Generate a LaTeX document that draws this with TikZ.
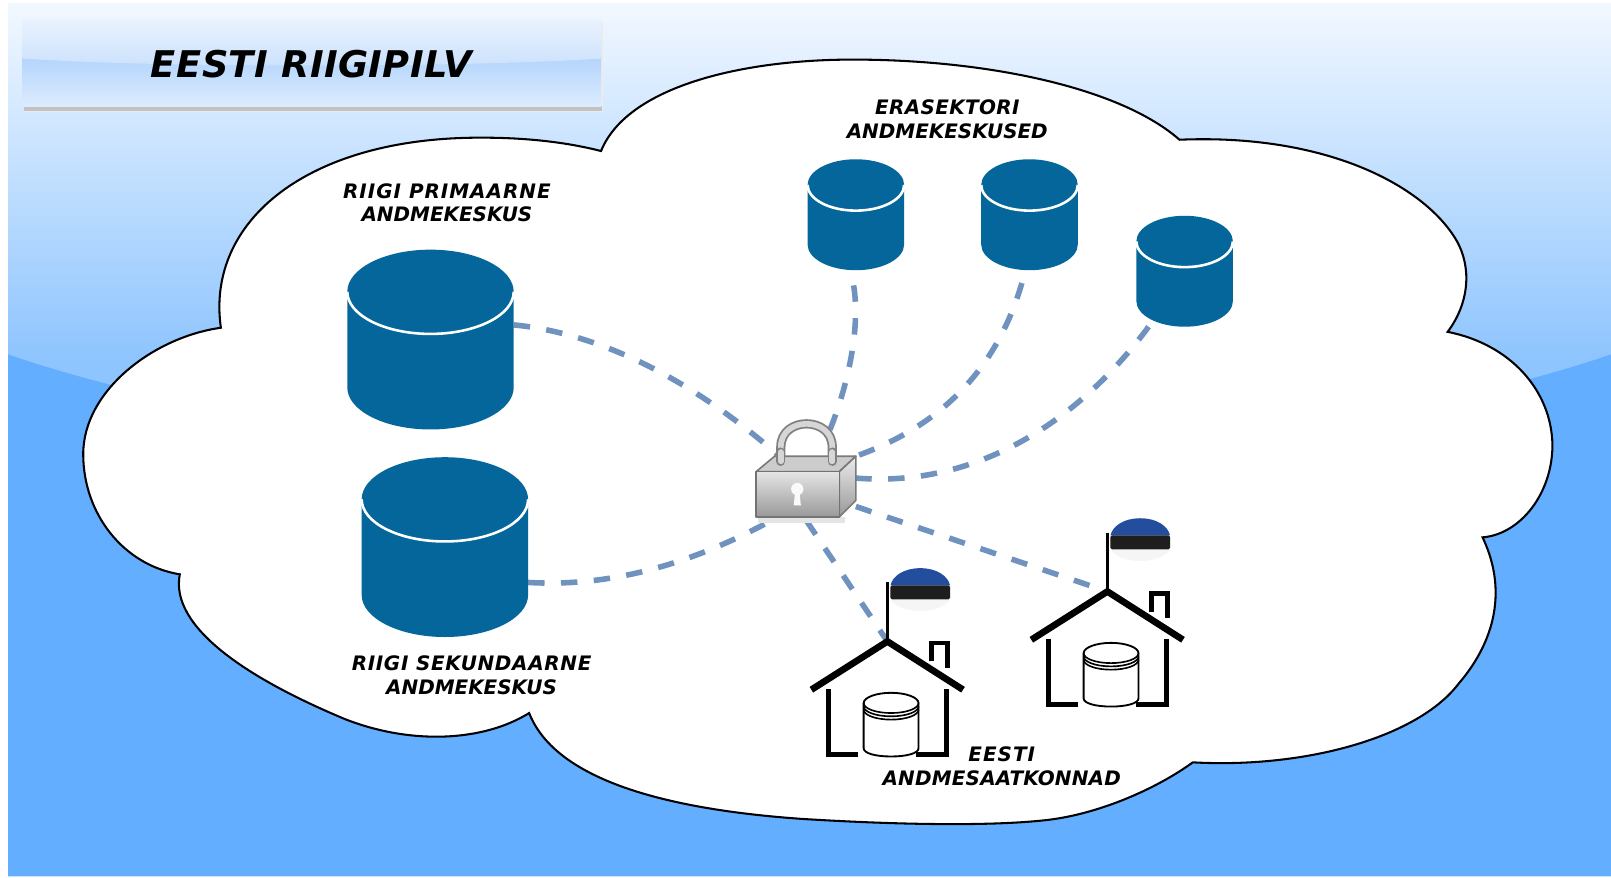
\documentclass[tikz,border=0pt]{standalone}
\usepackage{fontspec}
\setmainfont{DejaVu Sans}
\usetikzlibrary{calc}
\definecolor{skyblue}{HTML}{64AEFF}
\definecolor{dbblue}{HTML}{04669A}
\definecolor{connblue}{HTML}{7092BF}
\definecolor{flagblue}{HTML}{234E9E}
\definecolor{flagblack}{HTML}{1E1E1E}
\definecolor{skyA}{HTML}{8FC5FE}
\definecolor{skyB}{HTML}{F2F8FF}
\definecolor{barA}{HTML}{DDECFE}
\definecolor{barB}{HTML}{B2D4FC}
\definecolor{barC}{HTML}{CBE1FD}
\definecolor{barD}{HTML}{EAF3FE}
\pgfdeclareverticalshading{skyfadeb}{100bp}{color(0bp)=(skyA);color(40.6bp)=(skyA);color(75bp)=(skyB);color(100bp)=(skyB)}
\tikzset{
  anchorbox/.style={inner sep=0pt,outer sep=0pt,rectangle},
  conn/.style={connblue,line width=5.4pt,dash pattern=on 16pt off 16pt},
  lbl/.style={inner sep=0pt,align=center,font=\fontsize{19.4}{23}\selectfont\bfseries\itshape,text=black},
  titletext/.style={inner sep=0pt,font=\fontsize{35.8}{40}\selectfont\bfseries\itshape,text=black},
  cloudline/.style={draw=black,line width=2pt,fill=white,line join=miter}
}
\newcommand{\spaced}[2]{{\addfontfeature{LetterSpace=#1}#2}}
% cx top bottom rx ry
\newcommand{\drum}[5]{%
  \fill[dbblue] (#1-#4,#2+#5) .. controls (#1-#4,#2+#5-.5523*#5) and (#1-.5523*#4,#2) .. (#1,#2)
     .. controls (#1+.5523*#4,#2) and (#1+#4,#2+#5-.5523*#5) .. (#1+#4,#2+#5)
     -- (#1+#4,#3-#5) .. controls (#1+#4,#3-#5+.5523*#5) and (#1+.5523*#4,#3) .. (#1,#3)
     .. controls (#1-.5523*#4,#3) and (#1-#4,#3-#5+.5523*#5) .. (#1-#4,#3-#5) -- cycle;
  \draw[white,line width=2.5pt] (#1-#4,#2+#5) .. controls (#1-#4,#2+#5+.5523*#5) and (#1-.5523*#4,#2+2*#5) .. (#1,#2+2*#5)
     .. controls (#1+.5523*#4,#2+2*#5) and (#1+#4,#2+#5+.5523*#5) .. (#1+#4,#2+#5);
}
\newcommand{\jarband}[1]{%
  \draw[black,line width=1.6pt] (-23.1,#1) .. controls (-23.1,#1+5.4) and (-11.1,#1+9.7) .. (3.6,#1+9.7)
     .. controls (18.3,#1+9.7) and (30.3,#1+5.4) .. (30.3,#1);
}
\newcommand{\housepic}[2]{%
 \begin{scope}[shift={(#1,#2)}]
  \fill[black!4] (3,-41) .. controls (12,-26) and (52,-26) .. (61,-41) -- cycle;
  \fill[flagblue] (3,-54.5) .. controls (5,-63.8) and (16,-71.3) .. (32,-71.3)
     .. controls (48,-71.3) and (59,-63.8) .. (61,-54.5) -- cycle;
  \fill[flagblack,rounded corners=1.5pt] (3,-54.5) rectangle (61,-41);
  \draw[black,line width=3.4pt] (0,-57.4) -- (0,0);
  \draw[black,line width=6.5pt] (-74,47) -- (0,0) -- (73.6,47);
  \draw[black,line width=4.6pt] (43,19.5) -- (43,1.6) -- (58.7,1.6) -- (58.7,26);
  \draw[black,line width=5pt] (-57.7,46.4) -- (-57.7,110) -- (-28.5,110);
  \draw[black,line width=5pt] (57.4,46.4) -- (57.4,110) -- (28,110);
  \filldraw[fill=white,draw=black,line width=1.8pt,line join=round]
     (-23.1,60) .. controls (-23.1,54.6) and (-11.1,50) .. (3.6,50)
     .. controls (18.3,50) and (30.3,54.6) .. (30.3,60)
     -- (30.3,104) .. controls (30.3,109) and (18.3,112) .. (3.6,112)
     .. controls (-11.1,112) and (-23.1,109) .. (-23.1,104) -- cycle;
  \jarband{60}\jarband{63.2}\jarband{66.4}
 \end{scope}
}
\begin{document}
\begin{tikzpicture}[x=1pt,y=-1pt]
\useasboundingbox (0,0) rectangle (1568,853.6);
\fill[white] (0,0) rectangle (1568,853.6);
% sky
\shade[shading=skyfadeb] (8,3) rectangle (1568,500);
\fill[skyblue] (8,345) .. controls (400,480) and (1170,480) .. (1568,345) -- (1568,853) -- (8,853) -- cycle;
% title bar
\fill[black!8] (24,20) rectangle (587,109);
\fill[black!24] (23,103) rectangle (586,108);
\shade[top color=barB,bottom color=barA] (22,55) rectangle (585,104);
\shade[top color=barD,bottom color=barC] (22,18) -- (585,18) -- (585,57) .. controls (450,66) and (150,66) .. (22,57) -- cycle;
\node[titletext] (title) at (303,62) {\spaced{1.1}{EESTI RIIGIPILV}};
% cloud
\path[cloudline]
  (215,319) .. controls (200,215) and (300,133) .. (470,134)
  .. controls (510,134) and (550,138) .. (585,147)
  .. controls (610,85) and (720,58) .. (830,58)
  .. controls (960,58) and (1090,85) .. (1148,136)
  .. controls (1290,130) and (1385,180) .. (1417,233)
  .. controls (1433,260) and (1430,295) .. (1409,323)
  .. controls (1470,335) and (1510,380) .. (1511,433)
  .. controls (1511,480) and (1480,520) .. (1443,523)
  .. controls (1470,580) and (1450,630) .. (1420,665)
  .. controls (1380,718) and (1270,748) .. (1161,742)
  .. controls (1125,768) and (1070,792) .. (1020,798)
  .. controls (960,805) and (860,802) .. (780,797)
  .. controls (610,785) and (535,745) .. (515,694)
  .. controls (470,722) and (400,725) .. (336,700)
  .. controls (240,660) and (165,610) .. (175,559)
  .. controls (120,550) and (81,500) .. (81,442)
  .. controls (81,380) and (150,328) .. (215,319)
  -- cycle;
% anchor nodes
\node[anchorbox,minimum width=162pt,minimum height=175pt] (db1) at (419,330.5) {};
\node[anchorbox,minimum width=162pt,minimum height=175pt] (db2) at (433,532.5) {};
\node[anchorbox,minimum width=94pt,minimum height=108pt] (db3) at (833,209) {};
\node[anchorbox,minimum width=94pt,minimum height=108pt] (db4) at (1002,209) {};
\node[anchorbox,minimum width=94pt,minimum height=108pt] (db5) at (1153,264) {};
\node[anchorbox,minimum width=96pt,minimum height=63pt] (lock) at (785,475.5) {};
\node[anchorbox,minimum width=148pt,minimum height=111pt] (house1) at (863.7,679.8) {};
\node[anchorbox,minimum width=148pt,minimum height=111pt] (house2) at (1077.8,631.2) {};
% connectors
\draw[conn] (db1.10) .. controls (590,325) and (680,375) .. (lock.130);
\draw[conn] (db2.-23) .. controls (600,572) and (680,545) .. (lock.222);
\draw[conn,shorten <=15pt] (db3.-95) .. controls (838,320) and (825,385) .. (lock.70);
\draw[conn,shorten <=13pt] (db4.-94) .. controls (970,360) and (915,415) .. (lock.north east);
\draw[conn] (db5.-123) .. controls (1050,410) and (950,475) .. (lock.12);
\draw[conn] (lock.south) -- (house1.north);
\draw[conn,shorten >=13pt] (lock.-20) -- (house2.north);
% drums
\drum{419}{243}{418}{81}{41}
\drum{433}{445}{620}{81}{41}
\drum{833}{155}{263}{47}{25}
\drum{1002}{155}{263}{47}{25}
\drum{1153}{210}{318}{47}{25}
% houses
\housepic{863.7}{624.3}
\housepic{1077.8}{575.7}
% lock
\fill[white] (762,451) -- (762,435) .. controls (762,405) and (808,405) .. (808,435) -- (808,451) -- cycle;
\draw[black!50,line width=9pt,line cap=round] (760,450) -- (760,435) .. controls (760,405) and (810,405) .. (810,435) -- (810,450);
\draw[black!16,line width=5.5pt,line cap=round] (760,450) -- (760,435) .. controls (760,405) and (810,405) .. (810,435) -- (810,450);
\fill[black!10] (738,503) rectangle (822,509);
\filldraw[fill=black!20,draw=black!52,line width=1.6pt,line join=round] (736,459) -- (754,444) -- (833,444) -- (817,459) -- cycle;
\draw[black!50,line width=9pt,line cap=round] (760,449) -- (760,440);
\draw[black!16,line width=5.5pt,line cap=round] (760,449) -- (760,440);
\draw[black!50,line width=9pt,line cap=round] (810,449) -- (810,440);
\draw[black!16,line width=5.5pt,line cap=round] (810,449) -- (810,440);
\shade[top color=black!8,bottom color=black!40,draw=black!52,line width=1.6pt,line join=round] (817,459) -- (833,444) -- (833,487) -- (817,503) -- cycle;
\shade[top color=black!10,bottom color=black!40,draw=black!55,line width=1.6pt,line join=round] (736,459) rectangle (817,503);
\fill[black!2] (776,476) circle (6);
\fill[black!2] (774,478) -- (778,478) -- (779.5,492) -- (772.5,492) -- cycle;
% labels
\node[lbl] (lprim) at (435,197.5) {\spaced{5}{RIIGI PRIMAARNE}\\ANDMEKESKUS};
\node[lbl] (lsec) at (459,657.5) {\spaced{3.4}{RIIGI SEKUNDAARNE}\\ANDMEKESKUS};
\node[lbl] (lera) at (922,116) {\spaced{1.8}{ERASEKTORI}\\ANDMEKESKUSED};
\node[lbl] (lemb) at (975,746) {\spaced{5}{EESTI}\\\spaced{1}{ANDMESAATKONNAD}};
\end{tikzpicture}
\end{document}
